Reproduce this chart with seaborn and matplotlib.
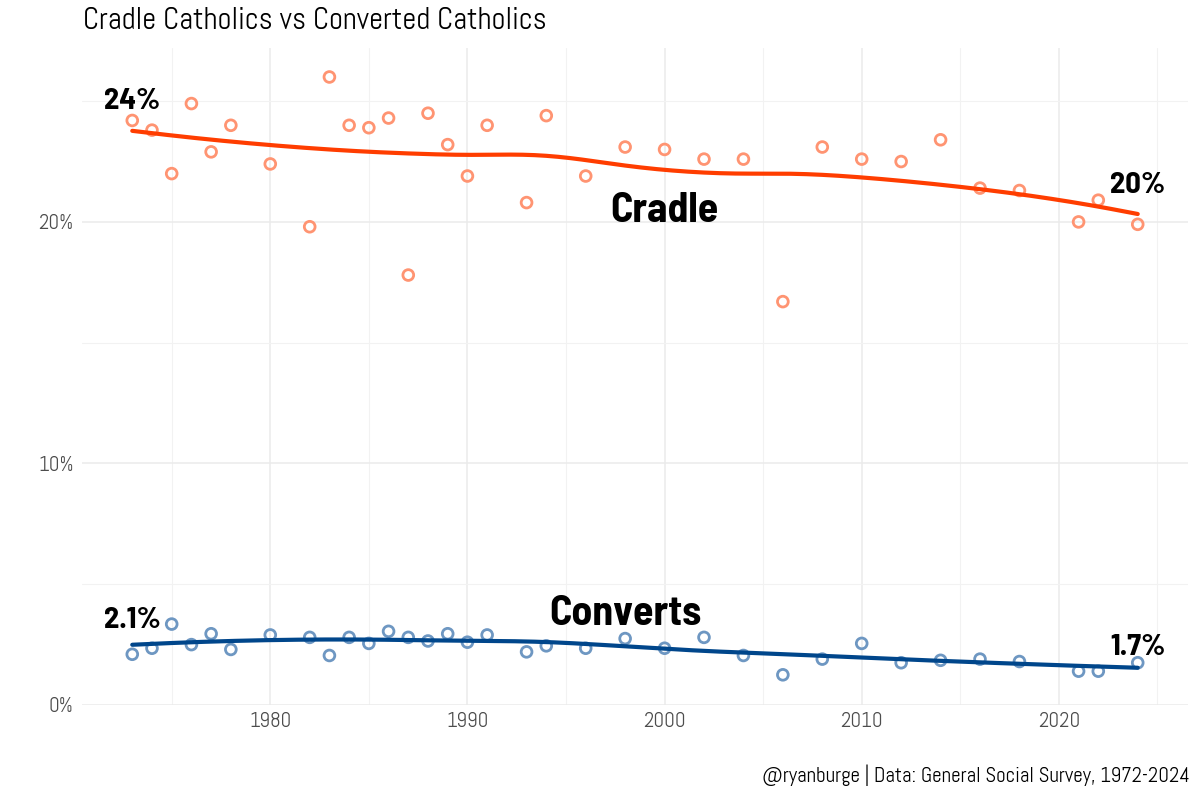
import numpy as np
import pandas as pd
import matplotlib
matplotlib.use("Agg")
import matplotlib.pyplot as plt
from matplotlib import font_manager as fm
import seaborn as sns
from matplotlib.ticker import FuncFormatter, MultipleLocator

years = [1973, 1974, 1975, 1976, 1977, 1978, 1980, 1982, 1983, 1984, 1985, 1986,
         1987, 1988, 1989, 1990, 1991, 1993, 1994, 1996, 1998, 2000, 2002, 2004,
         2006, 2008, 2010, 2012, 2014, 2016, 2018, 2021, 2022, 2024]
cradle = [24.2, 23.8, 22.0, 24.9, 22.9, 24.0, 22.4, 19.8, 26.0, 24.0, 23.9, 24.3,
          17.8, 24.5, 23.2, 21.9, 24.0, 20.8, 24.4, 21.9, 23.1, 23.0, 22.6, 22.6,
          16.7, 23.1, 22.6, 22.5, 23.4, 21.4, 21.3, 20.0, 20.9, 19.9]
converts = [2.1, 2.35, 3.35, 2.5, 2.95, 2.3, 2.9, 2.8, 2.05, 2.8, 2.55, 3.05,
            2.8, 2.65, 2.95, 2.6, 2.9, 2.2, 2.45, 2.35, 2.75, 2.35, 2.8, 2.05,
            1.25, 1.9, 2.55, 1.75, 1.85, 1.9, 1.8, 1.4, 1.4, 1.75]

labels_start = ["24%", "2.1%"]
labels_end = ["20%", "1.7%"]
group_names = ["Cradle", "Converts"]

line_colors = ["#FF3D00", "#00468B"]
point_colors = ["#FF9472", "#6E97C2"]


def loess(x, y, span=0.75, grid=None):
    x = np.asarray(x, float)
    y = np.asarray(y, float)
    n = len(x)
    q = int(np.floor(n * span))
    out = []
    for x0 in grid:
        d = np.abs(x - x0)
        h = np.sort(d)[q - 1]
        w = np.clip(1 - (d / h) ** 3, 0, None) ** 3
        X = np.vstack([np.ones(n), x - x0, (x - x0) ** 2]).T
        W = np.diag(w)
        beta = np.linalg.lstsq(X.T @ W @ X, X.T @ W @ y, rcond=None)[0]
        out.append(beta[0])
    return np.array(out)


def smooth_curve(x, y, grid, sigma=1.2):
    f = loess(x, y, grid=grid)
    step = grid[1] - grid[0]
    k = int(4 * sigma / step)
    t = np.arange(-k, k + 1) * step
    ker = np.exp(-0.5 * (t / sigma) ** 2)
    ker /= ker.sum()
    sl = (f[5] - f[0]) / (5 * step)
    sr = (f[-1] - f[-6]) / (5 * step)
    left = f[0] - sl * step * np.arange(k, 0, -1)
    right = f[-1] + sr * step * np.arange(1, k + 1)
    ext = np.concatenate([left, f, right])
    return np.convolve(ext, ker, mode="valid")


df = pd.DataFrame({"year": years * 2,
                   "pct": cradle + converts,
                   "group": ["Cradle"] * len(years) + ["Converts"] * len(years)})

grid = np.linspace(min(years), max(years), 256)
smooth_rows = []
for g, vals in zip(group_names, [cradle, converts]):
    fit = smooth_curve(years, vals, grid)
    smooth_rows.append(pd.DataFrame({"year": grid, "pct": fit, "group": g}))
smooth = pd.concat(smooth_rows)

sns.set_theme(style="whitegrid")
plt.rcParams['font.family'] = ['Abel', 'DejaVu Sans']

installed = set(f.name for f in fm.fontManager.ttflist)
bold_family = 'Abel'
for cand in ['Barlow Semi Condensed', 'Roboto Condensed', 'Barlow Condensed']:
    if cand in installed:
        bold_family = cand
        break

fig = plt.figure(figsize=(12, 8), dpi=100)
ax = fig.add_axes([82 / 1200, 1 - 705 / 800, (1188 - 82) / 1200, (705 - 48) / 800])

for g, pc, lc in zip(group_names, point_colors, line_colors):
    sub = df[df.group == g]
    sns.scatterplot(data=sub, x="year", y="pct", ax=ax, s=60, marker="o",
                    facecolors="none", edgecolor=pc, linewidth=2, zorder=2)
    sm = smooth[smooth.group == g]
    sns.lineplot(data=sm, x="year", y="pct", ax=ax, color=lc, linewidth=3, zorder=3)

ax.set_xlim(1970.45, 2026.55)
ax.set_ylim(0, 27.2)
ax.xaxis.set_major_locator(MultipleLocator(10))
ax.xaxis.set_minor_locator(MultipleLocator(5))
ax.yaxis.set_major_locator(MultipleLocator(10))
ax.yaxis.set_minor_locator(MultipleLocator(5))
ax.yaxis.set_major_formatter(FuncFormatter(lambda v, p: f"{v:.0f}%"))
ax.xaxis.set_major_formatter(FuncFormatter(lambda v, p: f"{v:.0f}"))
ax.grid(which="major", color="#EBEBEB", linewidth=1.1)
ax.grid(which="minor", color="#F2F2F2", linewidth=0.8)
for s in ax.spines.values():
    s.set_visible(False)
ax.tick_params(axis="both", which="both", length=0, labelsize=15, labelcolor="#4D4D4D")
ax.tick_params(axis="x", pad=5)
ax.tick_params(axis="y", pad=6)
ax.set_xlabel("")
ax.set_ylabel("")

bkw = dict(ha="center", va="center", color="black", family=[bold_family, 'DejaVu Sans'], fontweight="bold")
ax.text(years[0], 25.0, labels_start[0], fontsize=22, **bkw)
ax.text(years[-1], 21.5, labels_end[0], fontsize=22, **bkw)
ax.text(years[0], 3.5, labels_start[1], fontsize=22, **bkw)
ax.text(years[-1], 2.37, labels_end[1], fontsize=22, **bkw)
ax.text(2000, 20.45, group_names[0], fontsize=30, **bkw)
ax.text(1998, 3.75, group_names[1], fontsize=30, **bkw)

fig.text(83 / 1200, 1 - 21 / 800, "Cradle Catholics vs Converted Catholics", ha="left", va="center",
         fontsize=22, color="black")
fig.text(1190 / 1200, 1 - 775 / 800, "@ryanburge | Data: General Social Survey, 1972-2024", ha="right",
         va="center", fontsize=15, color="black")

fig.savefig("out.png", dpi=100, facecolor="white")
